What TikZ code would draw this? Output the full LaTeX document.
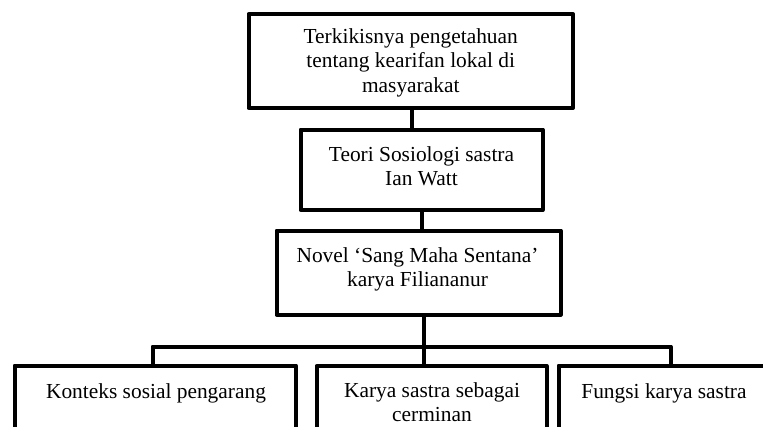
\documentclass[tikz,border=0pt]{standalone}
\usepackage{fontspec}
\setmainfont{Liberation Serif}
\begin{document}
\begin{tikzpicture}[x=1pt,y=-1pt,
  box/.style={draw=black,line width=4pt,line join=round,inner sep=0pt,fill=none},
  txt/.style={anchor=base,align=center,inner sep=0pt,font=\fontsize{21.4}{24.5}\selectfont},
  conn/.style={draw=black,line width=4pt,line join=round}]
\path[use as bounding box] (0,0) rectangle (763,426);
\clip (0,0) rectangle (763,426);
% boxes
\node[box,minimum width=324.5pt,minimum height=94pt] (top) at (410.75,61) {};
\node[box,minimum width=242pt,minimum height=80.5pt] (teori) at (421.5,169.75) {};
\node[box,minimum width=284pt,minimum height=84pt] (novel) at (418.5,272.5) {};
\node[box,minimum width=281.5pt,minimum height=90pt] (left) at (155.25,410.5) {};
\node[box,minimum width=230pt,minimum height=90pt] (mid) at (431.5,411) {};
\node[box,minimum width=221.5pt,minimum height=90pt] (right) at (669.25,410.5) {};
% texts (base anchor = baseline of the last line)
\node[txt] (ttop) at (410.75,92) {Terkikisnya pengetahuan\\tentang kearifan lokal di\\masyarakat};
\node[txt] (tteori) at (421.5,185.5) {Teori Sosiologi sastra\\Ian Watt};
\node[txt] (tnovel) at (417.5,286.5) {Novel ‘Sang Maha Sentana’\\karya Filiananur};
\node[txt] (tleft) at (156,398) {Konteks sosial pengarang};
\node[txt] (tmid) at (432,421.5) {Karya sastra sebagai\\cerminan};
\node[txt] (tright) at (664,398) {Fungsi karya sastra};
% connectors
\coordinate (j) at (424,346.5);
\coordinate (busL) at (152.5,346.5);
\coordinate (busR) at (670.5,346.5);
\draw[conn] (top.south) ++(0.75,0) coordinate (c1) (c1) -- (c1 |- teori.north);
\draw[conn] (teori.south) -- (teori.south |- novel.north);
\draw[conn] (novel.south -| j) -- (mid.north -| j);
\draw[conn] (left.north -| busL) -- (busL) -- (busR) -- (right.north -| busR);
\end{tikzpicture}
\end{document}
